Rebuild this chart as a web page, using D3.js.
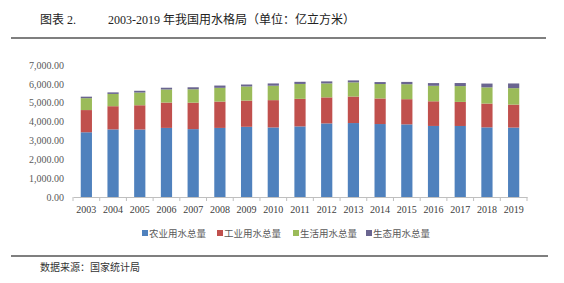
<!DOCTYPE html>
<html><head><meta charset="utf-8">
<script src="https://cdn.jsdelivr.net/npm/d3@7"></script>
<style>body{margin:0;background:#fff;}svg{display:block;}</style>
</head><body>
<svg id="c" width="564" height="283"></svg>
<script>
const years = ["2003","2004","2005","2006","2007","2008","2009","2010","2011","2012","2013","2014","2015","2016","2017","2018","2019"];
const agriculture = [3432.8,3585.7,3580.0,3664.4,3599.5,3663.5,3723.1,3689.1,3743.6,3902.5,3921.5,3869.0,3852.2,3768.0,3766.4,3693.1,3682.3];
const industry = [1177.2,1228.9,1285.2,1343.8,1403.0,1397.1,1390.9,1447.3,1461.8,1380.7,1406.4,1356.1,1334.8,1308.0,1277.0,1261.6,1217.6];
const domestic = [630.9,651.2,675.1,693.8,710.4,729.3,748.2,765.8,789.9,739.7,750.1,766.6,793.5,821.6,838.1,859.9,871.7];
const ecological = [79.5,82.0,92.7,93.0,105.7,120.2,103.0,119.8,111.9,108.3,105.4,103.2,122.7,142.6,161.9,200.9,249.6];
const seriesNames = ["农业用水总量","工业用水总量","生活用水总量","生态用水总量"];
const yTicks = [0,1000,2000,3000,4000,5000,6000,7000];
const colors = ["#4F81BD","#C0504D","#9BBB59","#6A6590"];

const svg = d3.select("#c");
const serif = "'Liberation Serif','Times New Roman','Noto Sans CJK SC',serif";
const cjk = "'Liberation Serif','Noto Sans CJK SC',sans-serif";

// header
svg.append("text").attr("x",40).attr("y",24).attr("font-family",cjk).attr("font-size",12).attr("fill","#222").text("图表 2.");
svg.append("text").attr("x",108).attr("y",24).attr("font-family",cjk).attr("font-size",12).attr("fill","#222").text("2003-2019 年我国用水格局（单位：亿立方米）");
svg.append("line").attr("x1",11).attr("x2",546).attr("y1",38).attr("y2",38).attr("stroke","#000").attr("stroke-width",1.2);
svg.append("line").attr("x1",11).attr("x2",548).attr("y1",256).attr("y2",256).attr("stroke","#000").attr("stroke-width",1.2);
svg.append("text").attr("x",40).attr("y",271).attr("font-family",cjk).attr("font-size",10).attr("fill","#333").text("数据来源：国家统计局");

const x = d3.scaleBand().domain(years).range([73,527]).paddingInner(0.58).paddingOuter(0.29);
const y = d3.scaleLinear().domain([0,7000]).range([197,65]);

const rows = years.map((yr,i)=>({year:yr,a:agriculture[i],b:industry[i],c:domestic[i],d:ecological[i]}));
const stack = d3.stack().keys(["a","b","c","d"])(rows);

svg.append("g").selectAll("g").data(stack).join("g").attr("fill",(d,i)=>colors[i])
  .selectAll("rect").data(d=>d).join("rect")
  .attr("x",d=>x(d.data.year)).attr("width",x.bandwidth())
  .attr("y",d=>y(d[1])).attr("height",d=>y(d[0])-y(d[1]));

// y axis labels
const fmt = d3.format(",.2f");
const ya = svg.append("g").attr("transform","translate(64,0)")
  .call(d3.axisLeft(y).tickValues(yTicks).tickFormat(fmt).tickSize(0).tickPadding(0));
ya.select(".domain").remove();
ya.selectAll("text").attr("font-family",serif).attr("font-size",10).attr("fill","#595959");

// x axis
const xa = svg.append("g").attr("transform","translate(0,197)")
  .call(d3.axisBottom(x).tickSize(0).tickPadding(9));
xa.select(".domain").attr("stroke","#BFBFBF");
xa.selectAll("text").attr("font-family",serif).attr("font-size",10).attr("fill","#404040");
const step = x.step();
const bounds = years.map((yr)=>x(yr)-(step-x.bandwidth())/2).concat([527]);
xa.selectAll(".sep").data(bounds).join("line").attr("class","sep")
  .attr("x1",d=>d).attr("x2",d=>d).attr("y1",0).attr("y2",4).attr("stroke","#BFBFBF");

// legend
const lx = [142,217,293,366];
const lg = svg.append("g").selectAll("g").data(seriesNames).join("g")
  .attr("transform",(d,i)=>`translate(${lx[i]},233)`);
lg.append("rect").attr("x",0).attr("y",-3).attr("width",6).attr("height",6).attr("fill",(d,i)=>colors[i]);
lg.append("text").attr("x",7).attr("y",3.5).attr("font-family","'Noto Sans CJK SC',sans-serif").attr("font-size",9.5).attr("fill","#595959").text(d=>d);
</script>
</body></html>
